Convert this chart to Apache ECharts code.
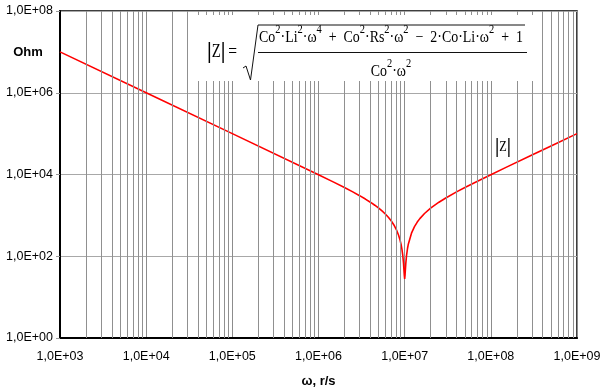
<!DOCTYPE html>
<html>
<head>
<meta charset="utf-8">
<script src="https://cdn.jsdelivr.net/npm/echarts@6/dist/echarts.min.js"></script>
<style>html,body{margin:0;padding:0;background:#fff}#c{width:600px;height:388px}</style>
</head>
<body>
<div id="c"></div>
<script>
// angular frequency ω, r/s
var omega = [1e3, 1e4, 1e5, 1e6, 1.5e6, 2e6, 2.5e6, 3e6, 3.5e6, 4e6, 4.5e6, 5e6, 5.5e6, 6e6, 6.5e6, 7e6, 7.5e6, 8e6, 8.5e6, 8.8e6, 9.1e6, 9.3e6, 9.5e6, 9.7e6, 9.85e6, 9.9e6, 1e7, 1.01e7, 1.015e7, 1.03e7, 1.05e7, 1.08e7, 1.1e7, 1.2e7, 1.3e7, 1.4e7, 1.5e7, 1.7e7, 2e7, 2.5e7, 3e7, 4e7, 5e7, 7e7, 1e8, 1.5e8, 3e8, 5e8, 1e9];
// |Z|, Ohm
var impedance = [1e7, 1e6, 99990, 9900, 6517, 4800, 3750, 3033, 2507, 2100, 1772, 1500, 1268, 1067, 888, 729, 583, 450, 327, 258, 191, 148, 106, 67, 41, 34.5, 28, 34.4, 41, 65, 102, 157, 193, 367, 531, 686, 833, 1112, 1500, 2100, 2667, 3750, 4800, 6857, 9900, 14933, 29967, 49980, 99990];
// minor vertical grid positions
var minorGrid = [2e3,3e3,4e3,5e3,6e3,7e3,8e3,9e3, 2e4,3e4,4e4,5e4,6e4,7e4,8e4,9e4, 2e5,3e5,4e5,5e5,6e5,7e5,8e5,9e5, 2e6,3e6,4e6,5e6,6e6,7e6,8e6,9e6, 2e7,3e7,4e7,5e7,6e7,7e7,8e7,9e7, 2e8,3e8,4e8,5e8,6e8,7e8,8e8,9e8];

function fmt(v) {
  var e = Math.round(Math.log10(v));
  return '1,0E+' + (e < 10 ? '0' : '') + e;
}

var chart = echarts.init(document.getElementById('c'), null, {renderer: 'canvas'});
var labelFont = {fontFamily: 'Liberation Sans', fontSize: 12.5, color: '#000'};

var supS = {fontFamily: 'Liberation Serif', fontSize: 12, lineHeight: 22, verticalAlign: 'top', color: '#111'};
var nS = {fontFamily: 'Liberation Serif', fontSize: 16, lineHeight: 16, verticalAlign: 'bottom', color: '#111'};

chart.setOption({
  animation: false,
  grid: {left: 60, right: 23, top: 11, bottom: 50, show: true, borderColor: '#000', borderWidth: 1.5, containLabel: false, outerBoundsMode: 'none'},
  xAxis: {
    type: 'log', logBase: 10, min: 1e3, max: 1e9, interval: 1,
    name: 'ω, r/s', nameLocation: 'middle', nameGap: 37,
    nameTextStyle: {fontFamily: 'Liberation Sans', fontSize: 13, fontWeight: 'bold', color: '#000'},
    axisLine: {lineStyle: {color: '#000', width: 2}},
    axisTick: {show: false},
    axisLabel: Object.assign({formatter: fmt, margin: 12}, labelFont),
    splitLine: {show: true, lineStyle: {color: '#8c8c8c', width: 1}}
  },
  yAxis: {
    type: 'log', logBase: 10, min: 1, max: 1e8, interval: 2,
    axisLine: {show: true, lineStyle: {color: '#000', width: 2}},
    axisTick: {show: true, length: 4, lineStyle: {color: '#999'}},
    axisLabel: Object.assign({formatter: fmt, margin: 7}, labelFont),
    splitLine: {show: true, lineStyle: {color: '#a8a8a8', width: 1}}
  },
  series: [
    {
      type: 'line', data: [], z: 1, silent: true,
      markLine: {
        silent: true, symbol: 'none', animation: false,
        label: {show: false},
        lineStyle: {color: '#909090', width: 1, type: 'solid'},
        data: minorGrid.map(function (v) { return {xAxis: v}; })
      }
    },
    {
      type: 'line', z: 3, symbol: 'none', smooth: false,
      lineStyle: {color: '#ff0000', width: 1.6},
      data: omega.map(function (w, i) { return [w, impedance[i]]; })
    }
  ],
  graphic: [
    {type: 'rect', z: 100, shape: {x: 196, y: 15, width: 339, height: 66}, style: {fill: '#fff'}},
    {type: 'text', z: 101, x: 28, y: 52, style: {text: 'Ohm', fontFamily: 'Liberation Sans', fontSize: 13, fontWeight: 'bold', fill: '#000', align: 'center', verticalAlign: 'middle'}},
    {type: 'text', z: 101, x: 222, y: 52, scaleX: 0.82, style: {
      text: '{b||}{z|Z}{b||} {e|=}', align: 'center', verticalAlign: 'middle',
      rich: {
        b: {fontFamily: 'Liberation Sans', fontSize: 22, color: '#333'},
        z: {fontFamily: 'Liberation Serif', fontSize: 18, color: '#ff0000'},
        e: {fontFamily: 'Liberation Serif', fontSize: 19, color: '#111'}
      }
    }},
    {type: 'polyline', z: 101, shape: {points: [[243, 68], [246, 66], [250.5, 80], [258, 25], [525, 25]]}, style: {stroke: '#111', lineWidth: 1, fill: null}},
    {type: 'line', z: 101, shape: {x1: 258, y1: 52.5, x2: 527, y2: 52.5}, style: {stroke: '#111', lineWidth: 1}},
    {type: 'text', z: 101, x: 391, y: 46, scaleX: 0.87, style: {
      text: '{n|Co}{s|2}{n|·Li}{s|2}{n|·ω}{s|4}{n|  +  Co}{s|2}{n|·Rs}{s|2}{n|·ω}{s|2}{n|  −  2·Co·Li·ω}{s|2}{n|  +  1}',
      align: 'center', verticalAlign: 'bottom', rich: {n: nS, s: supS}
    }},
    {type: 'text', z: 101, x: 391, y: 80, scaleX: 0.87, style: {
      text: '{n|Co}{s|2}{n|·ω}{s|2}',
      align: 'center', verticalAlign: 'bottom', rich: {n: nS, s: supS}
    }},
    {type: 'text', z: 101, x: 503, y: 147, scaleX: 0.82, style: {
      text: '{b||}{z|Z}{b||}', align: 'center', verticalAlign: 'middle',
      rich: {
        b: {fontFamily: 'Liberation Sans', fontSize: 20, color: '#333'},
        z: {fontFamily: 'Liberation Serif', fontSize: 15, color: '#ff0000'}
      }
    }}
  ]
});
</script>
</body>
</html>
